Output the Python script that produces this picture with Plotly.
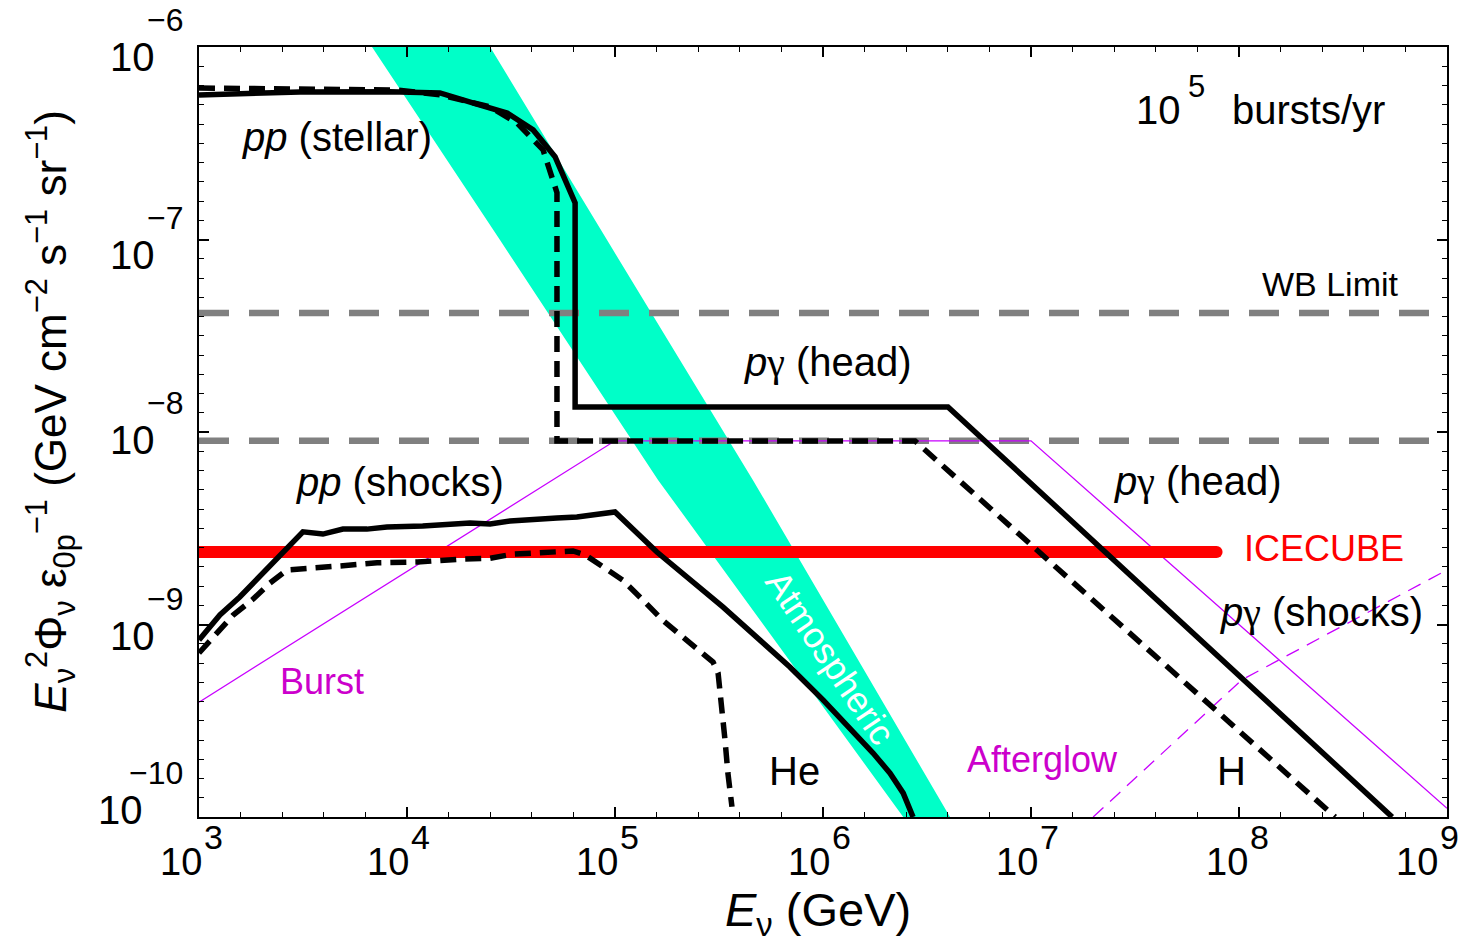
import numpy as np
import plotly.graph_objects as go

# ---------------- data ----------------
# pp (stellar) + p-gamma (head), solid curve
solid_top_E = [1.0e3, 3.06e3, 8.28e3, 1.44e4, 2.07e4, 3.03e4, 4.04e4, 5.15e4, 6.43e4, 6.43e4, 3.99e6, 5.45e8]
solid_top_F = [5.64e-7, 5.83e-7, 5.86e-7, 5.77e-7, 5.12e-7, 4.54e-7, 3.71e-7, 2.69e-7, 1.55e-7, 1.35e-8, 1.35e-8, 1.0e-10]
# pp (stellar) + p-gamma (head), dashed curve
dash_top_E = [1.0e3, 8.96e3, 1.44e4, 2.51e4, 3.38e4, 4.51e4, 5.26e4, 5.26e4, 2.77e6, 2.90e8]
dash_top_F = [6.12e-7, 5.98e-7, 5.64e-7, 4.88e-7, 4.03e-7, 2.92e-7, 1.75e-7, 8.98e-9, 8.98e-9, 1.0e-10]

# pp (shocks), solid curve
solid_low_E = [1.0e3, 1.26e3, 1.57e3, 1.96e3, 3.16e3, 3.94e3, 4.92e3, 6.42e3, 8.01e3, 1.19e4, 1.61e4,
               2.01e4, 2.51e4, 3.13e4, 5.26e4, 6.56e4, 1.0e5, 1.59e5, 3.31e5, 6.93e5, 1.0e6, 1.46e6,
               1.74e6, 2.10e6, 2.43e6, 2.71e6]
solid_low_F = [8.30e-10, 1.12e-9, 1.39e-9, 1.77e-9, 3.03e-9, 2.95e-9, 3.13e-9, 3.13e-9, 3.21e-9, 3.25e-9,
               3.29e-9, 3.37e-9, 3.33e-9, 3.45e-9, 3.57e-9, 3.62e-9, 3.84e-9, 2.38e-9, 1.23e-9, 6.02e-10,
               4.06e-10, 2.67e-10, 2.15e-10, 1.69e-10, 1.33e-10, 1.0e-10]
# pp (shocks), dashed curve
dash_low_E = [1.0e3, 1.19e3, 1.46e3, 1.80e3, 2.19e3, 2.65e3, 3.94e3, 4.92e3, 7.18e3, 1.12e4, 1.86e4,
              2.51e4, 3.24e4, 4.51e4, 6.28e4, 7.18e4, 8.47e4, 1.09e5, 1.36e5, 1.70e5, 2.12e5, 2.65e5,
              2.96e5, 3.13e5, 3.27e5, 3.38e5, 3.49e5, 3.65e5]
dash_low_F = [7.11e-10, 8.81e-10, 1.12e-9, 1.34e-9, 1.64e-9, 1.92e-9, 1.97e-9, 2.02e-9, 2.09e-9, 2.11e-9,
              2.19e-9, 2.21e-9, 2.32e-9, 2.35e-9, 2.41e-9, 2.30e-9, 2.04e-9, 1.70e-9, 1.34e-9, 1.05e-9,
              8.61e-10, 7.11e-10, 6.38e-10, 5.60e-10, 3.72e-10, 2.51e-10, 1.69e-10, 1.13e-10]

# Burst (thin magenta solid)
burst_E = [1.0e3, 1.0e5, 1.0e7, 1.0e9]
burst_F = [3.95e-10, 9.0e-9, 9.0e-9, 1.11e-10]
# Afterglow (thin magenta dashed)
after_E = [1.99e7, 1.03e8, 1.0e9]
after_F = [1.0e-10, 5.15e-10, 1.92e-9]

# WB limits (grey dashed)
wb_E = [1.0e3, 1.0e9]
wb_upper = 4.15e-8
wb_lower = 9.0e-9

# IceCube sensitivity
ice_E = [1.0e3, 7.8e7]
ice_F = 2.38e-9

# Atmospheric band edges
atm_left_E = [6.79e3, 2.80e4, 1.61e5, 2.43e6]
atm_left_F = [1.0e-6, 9.93e-8, 5.64e-9, 1.0e-10]
atm_right_E = [2.51e4, 9.16e4, 4.60e5, 4.08e6]
atm_right_F = [1.0e-6, 9.93e-8, 5.64e-9, 1.0e-10]

# axis ticks and tick labels
x_major = [1e3, 1e4, 1e5, 1e6, 1e7, 1e8, 1e9]
x_exps = ["3", "4", "5", "6", "7", "8", "9"]
y_major = [1e-10, 1e-9, 1e-8, 1e-7, 1e-6]
y_exps = ["−10", "−9", "−8", "−7", "−6"]
x_minor = [10 ** (3 + 0.2 * k) for k in range(31) if k % 5 != 0]
y_minor = [10 ** (-10 + 0.1 * k) for k in range(41) if k % 10 != 0]

FONT = "Liberation Sans"
BLACK_W = 5.5
GAMMA = '<span style="font-family:Liberation Serif">γ</span>'

fig = go.Figure()

# atmospheric band
fig.add_trace(go.Scatter(
    x=atm_left_E + atm_right_E[::-1], y=atm_left_F + atm_right_F[::-1],
    fill="toself", fillcolor="#00FFC8", line=dict(width=0, color="#00FFC8"),
    mode="lines", hoverinfo="skip", showlegend=False))

# grey WB lines
for lvl in (wb_upper, wb_lower):
    fig.add_trace(go.Scatter(x=wb_E, y=[lvl, lvl], mode="lines",
                             line=dict(color="#808080", width=6.5, dash="30px,20px"),
                             showlegend=False))

# burst / afterglow magenta
fig.add_trace(go.Scatter(x=burst_E, y=burst_F, mode="lines",
                         line=dict(color="#C800FF", width=1.3), showlegend=False))
fig.add_trace(go.Scatter(x=after_E, y=after_F, mode="lines",
                         line=dict(color="#C800FF", width=1.3, dash="14px,9px"), showlegend=False))

# IceCube
fig.add_trace(go.Scatter(x=ice_E, y=[ice_F, ice_F], mode="lines",
                         line=dict(color="#FF0000", width=12), showlegend=False))
fig.add_trace(go.Scatter(x=[ice_E[-1]], y=[ice_F], mode="markers",
                         marker=dict(color="#FF0000", size=12), showlegend=False))

# black curves
fig.add_trace(go.Scatter(x=solid_top_E, y=solid_top_F, mode="lines",
                         line=dict(color="black", width=BLACK_W), showlegend=False))
fig.add_trace(go.Scatter(x=dash_top_E, y=dash_top_F, mode="lines",
                         line=dict(color="black", width=BLACK_W, dash="16px,9px"), showlegend=False))
fig.add_trace(go.Scatter(x=solid_low_E, y=solid_low_F, mode="lines",
                         line=dict(color="black", width=BLACK_W), showlegend=False))
fig.add_trace(go.Scatter(x=dash_low_E, y=dash_low_F, mode="lines",
                         line=dict(color="black", width=BLACK_W, dash="16px,9px"), showlegend=False))


def ann(text, E, F, size=40, color="black", angle=0, xanchor="center"):
    fig.add_annotation(x=np.log10(E), y=np.log10(F), xref="x", yref="y", text=text,
                       showarrow=False, textangle=angle, xanchor=xanchor, yanchor="middle",
                       font=dict(family=FONT, size=size, color=color))


ann("<i>pp</i> (stellar)", 4.60e3, 3.40e-7)
ann("10", 5.38e7, 4.71e-7, xanchor="right")
ann("5", 5.56e7, 6.26e-7, size=31, xanchor="left")
ann("bursts/yr", 9.06e7, 4.71e-7, xanchor="left")
ann("WB Limit", 2.74e8, 5.87e-8, size=34)
ann("<i>p</i>" + GAMMA + " (head)", 1.06e6, 2.31e-8)
ann("<i>pp</i> (shocks)", 9.25e3, 5.50e-9)
ann("<i>p</i>" + GAMMA + " (head)", 6.35e7, 5.50e-9)
ann("ICECUBE", 2.56e8, 2.49e-9, size=36, color="#FF0000")
ann("<i>p</i>" + GAMMA + " (shocks)", 2.48e8, 1.16e-9)
ann("Burst", 3.90e3, 5.08e-10, size=36, color="#CC00CC")
ann("Afterglow", 1.13e7, 2.0e-10, size=36, color="#CC00CC")
ann("He", 7.26e5, 1.73e-10)
ann("H", 9.16e7, 1.73e-10)
ann("Atmospheric", 1.08e6, 6.70e-10, size=36, color="white", angle=56)

# x tick labels: base "10" and exponent drawn at each tick
x_base_shift = [5, 4, 5, 9, 9, 11, -7]
for v, e, sh in zip(x_major, x_exps, x_base_shift):
    fig.add_annotation(x=np.log10(v), y=0, xref="x", yref="paper", text="10", showarrow=False,
                       xanchor="right", yanchor="middle", xshift=sh, yshift=-45,
                       font=dict(family=FONT, size=38, color="black"))
    fig.add_annotation(x=np.log10(v), y=0, xref="x", yref="paper", text=e, showarrow=False,
                       xanchor="left", yanchor="middle", xshift=sh - 2, yshift=-20,
                       font=dict(family=FONT, size=34, color="black"))

# y tick labels
y_label_drop = [-7, 11, 8, 15, 10]
y_base_right = [-54, -42, -42, -42, -42]
for v, e, dr, br in zip(y_major, y_exps, y_label_drop, y_base_right):
    fig.add_annotation(x=0, y=np.log10(v), xref="paper", yref="y", text="10", showarrow=False,
                       xanchor="right", yanchor="middle", xshift=br, yshift=-dr,
                       font=dict(family=FONT, size=40, color="black"))
    fig.add_annotation(x=0, y=np.log10(v), xref="paper", yref="y", text=e, showarrow=False,
                       xanchor="right", yanchor="middle", xshift=-14, yshift=-dr + 37,
                       font=dict(family=FONT, size=32, color="black"))

# axis titles
fig.add_annotation(x=0.496, y=-0.125, xref="paper", yref="paper", showarrow=False,
                   text="<i>E</i><sub>ν</sub> (GeV)", xanchor="center", yanchor="middle",
                   font=dict(family=FONT, size=47, color="black"))
fig.add_annotation(x=-0.119, y=0.527, xref="paper", yref="paper", showarrow=False, textangle=-90,
                   text="<i>E</i><sub>ν</sub><sup>2</sup>Φ<sub>ν</sub> ε<sub>0p</sub><sup>−1</sup> "
                        "(GeV cm<sup>−2</sup> s<sup>−1</sup> sr<sup>−1</sup>)",
                   xanchor="center", yanchor="middle",
                   font=dict(family=FONT, size=44, color="black"))

axis_common = dict(type="log", showline=True, linecolor="black", linewidth=2, mirror="ticks",
                   ticks="inside", tickcolor="black", tickwidth=1.5, ticklen=10,
                   showgrid=False, zeroline=False, tickmode="array", automargin=False,
                   showticklabels=False)

fig.update_xaxes(range=[3, 9], tickvals=x_major,
                 minor=dict(tickmode="array", tickvals=x_minor, ticks="inside", ticklen=5,
                            tickcolor="black", tickwidth=1),
                 **axis_common)
fig.update_yaxes(range=[-10, -6], tickvals=y_major,
                 minor=dict(tickmode="array", tickvals=y_minor, ticks="inside", ticklen=5,
                            tickcolor="black", tickwidth=1),
                 **axis_common)

fig.update_layout(width=1479, height=941, margin=dict(l=199, r=32, t=47, b=124),
                  plot_bgcolor="white", paper_bgcolor="white", showlegend=False)

fig.write_html("out.html")
